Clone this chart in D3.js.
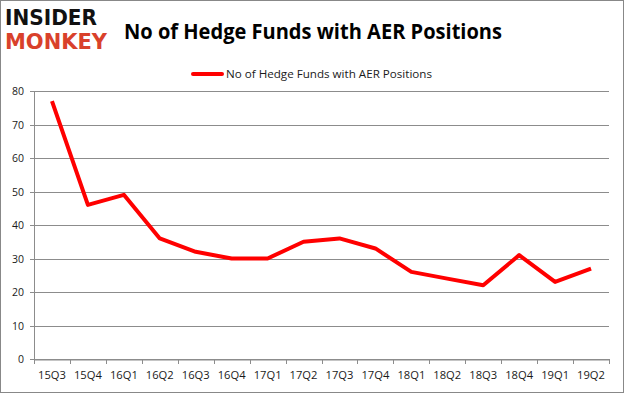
<!DOCTYPE html>
<html>
<head>
<meta charset="utf-8">
<script src="https://cdn.jsdelivr.net/npm/d3@7"></script>
<style>
  body { margin: 0; background: #fff; }
  text { font-family: "Open Sans", "Noto Sans", sans-serif; }
</style>
</head>
<body>
<script>
const width = 625;
const height = 395;

// quarters and number of hedge funds
const quarters = ["15Q3", "15Q4", "16Q1", "16Q2", "16Q3", "16Q4", "17Q1", "17Q2",
  "17Q3", "17Q4", "18Q1", "18Q2", "18Q3", "18Q4", "19Q1", "19Q2"];
const funds = [77, 46, 49, 36, 32, 30, 30, 35, 36, 33, 26, 24, 22, 31, 23, 27];
const yTicks = [0, 10, 20, 30, 40, 50, 60, 70, 80];
const seriesName = "No of Hedge Funds with AER Positions";

const margin = {left: 34, right: 16, top: 91, bottom: 36};
const fontFam = '"Open Sans", "Noto Sans", sans-serif';

const svg = d3.select("body")
  .append("svg")
  .attr("width", width)
  .attr("height", height);

// outer frame
svg.append("rect")
  .attr("x", 0.5).attr("y", 0.5)
  .attr("width", width - 2).attr("height", height - 3)
  .attr("fill", "#fff")
  .attr("stroke", "#888");

const x = d3.scaleBand()
  .domain(quarters)
  .range([margin.left, width - margin.right]);

const y = d3.scaleLinear()
  .domain([0, 80])
  .range([height - margin.bottom, margin.top]);

// grid lines
svg.append("g")
  .selectAll("line")
  .data(yTicks)
  .enter()
  .append("line")
  .attr("x1", margin.left - 4)
  .attr("x2", width - margin.right)
  .attr("y1", d => Math.round(y(d)) + 0.5)
  .attr("y2", d => Math.round(y(d)) + 0.5)
  .attr("stroke", "#8c8c8c")
  .attr("stroke-width", 1);

// y axis line
svg.append("line")
  .attr("x1", margin.left + 0.5).attr("x2", margin.left + 0.5)
  .attr("y1", y(80)).attr("y2", Math.round(y(0)) + 0.5)
  .attr("stroke", "#8c8c8c");

// y labels
svg.append("g")
  .selectAll("text")
  .data(yTicks)
  .enter()
  .append("text")
  .attr("x", 24)
  .attr("y", d => y(d) + 4)
  .attr("text-anchor", "end")
  .attr("font-size", 10.5)
  .attr("fill", "#1a1a1a")
  .text(d => d);

// x axis
const xAxis = d3.axisBottom(x).tickSize(0).tickPadding(12);
const gx = svg.append("g")
  .attr("transform", `translate(0, ${Math.round(y(0)) + 0.5})`)
  .call(xAxis);
gx.select(".domain").attr("stroke", "#8c8c8c");
gx.selectAll("text")
  .attr("font-size", 11.2)
  .attr("fill", "#1a1a1a")
  .style("font-family", fontFam);

// x tick marks at category boundaries
const bounds = quarters.map(q => x(q)).concat([x(quarters[quarters.length - 1]) + x.bandwidth()]);
svg.append("g")
  .selectAll("line")
  .data(bounds)
  .enter()
  .append("line")
  .attr("x1", d => Math.round(d) + 0.5)
  .attr("x2", d => Math.round(d) + 0.5)
  .attr("y1", Math.round(y(0)))
  .attr("y2", Math.round(y(0)) + 5)
  .attr("stroke", "#8c8c8c");

// data line
const line = d3.line()
  .x((d, i) => x(quarters[i]) + x.bandwidth() / 2)
  .y(d => y(d));

svg.append("path")
  .datum(funds)
  .attr("d", line)
  .attr("fill", "none")
  .attr("stroke", "#ff0000")
  .attr("stroke-width", 4)
  .attr("stroke-linejoin", "round");

// title
svg.append("text")
  .attr("x", 124)
  .attr("y", 39)
  .attr("font-size", 21)
  .attr("font-weight", "bold")
  .attr("fill", "#000")
  .attr("textLength", 378)
  .attr("lengthAdjust", "spacingAndGlyphs")
  .text(seriesName);

// legend
svg.append("line")
  .attr("x1", 193).attr("x2", 222)
  .attr("y1", 74).attr("y2", 74)
  .attr("stroke", "#ff0000")
  .attr("stroke-width", 4)
  .attr("stroke-linecap", "round");
svg.append("text")
  .attr("x", 226)
  .attr("y", 78)
  .attr("font-size", 11.5)
  .attr("fill", "#1a1a1a")
  .attr("textLength", 206)
  .attr("lengthAdjust", "spacingAndGlyphs")
  .text(seriesName);

// logo
svg.append("text")
  .attr("x", 5)
  .attr("y", 25)
  .attr("font-size", 22)
  .attr("font-weight", "900")
  .attr("fill", "#111")
  .attr("textLength", 92)
  .attr("lengthAdjust", "spacingAndGlyphs")
  .style("font-family", '"DejaVu Sans", sans-serif')
  .text("INSIDER");
svg.append("text")
  .attr("x", 5)
  .attr("y", 49)
  .attr("font-size", 22)
  .attr("font-weight", "900")
  .attr("fill", "#d9412b")
  .attr("textLength", 102)
  .attr("lengthAdjust", "spacingAndGlyphs")
  .style("font-family", '"DejaVu Sans", sans-serif')
  .text("MONKEY");
</script>
</body>
</html>
